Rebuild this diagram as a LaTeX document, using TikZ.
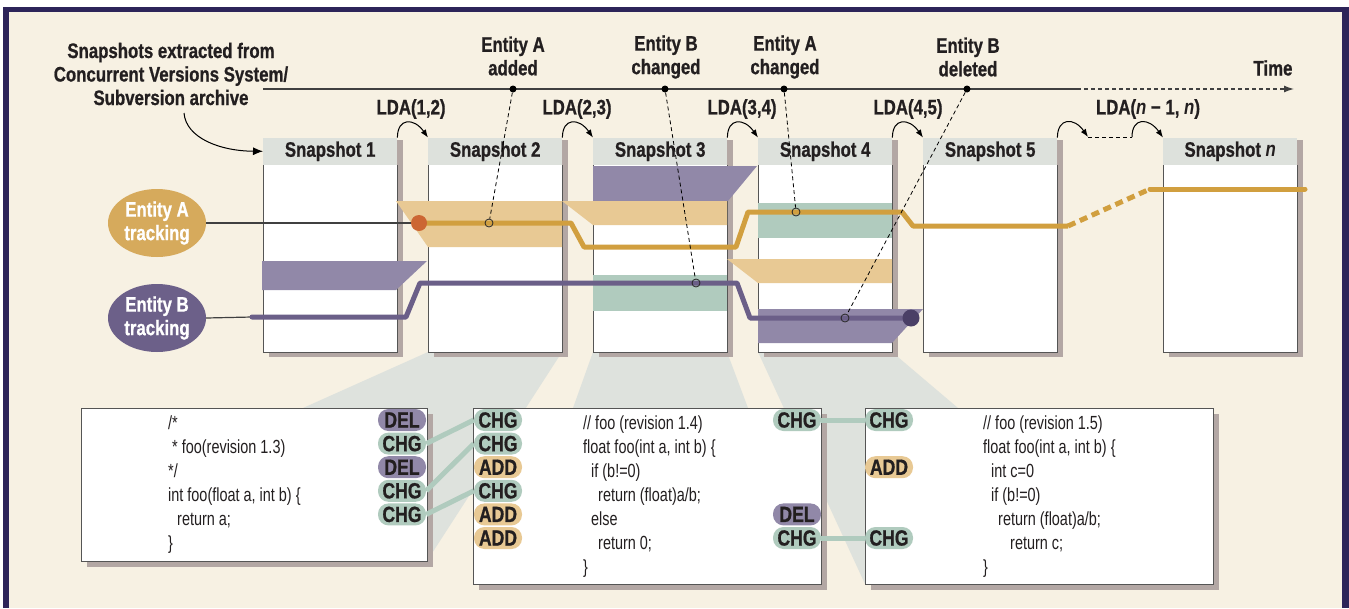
\documentclass[tikz,border=0pt]{standalone}
\usepackage{fontspec}
\setmainfont{Liberation Sans}
\newfontfamily\condf[FakeStretch=0.8, BoldFeatures={FakeBold=0.8}]{Liberation Sans}
\newfontfamily\codef[FakeStretch=0.76]{Liberation Sans}
\usetikzlibrary{arrows.meta,shapes.geometric}
\definecolor{cream}{HTML}{F7F1E3}
\definecolor{framec}{HTML}{2D2459}
\definecolor{headc}{HTML}{DDE1DC}
\definecolor{shadowc}{HTML}{B3A7A4}
\definecolor{goldl}{HTML}{D19F3F}
\definecolor{tanc}{HTML}{E8C994}
\definecolor{goldE}{HTML}{D6AA5C}
\definecolor{purpE}{HTML}{6C6089}
\definecolor{purpband}{HTML}{9188A8}
\definecolor{purpl}{HTML}{6B5F88}
\definecolor{darkdot}{HTML}{4A3F66}
\definecolor{greenc}{HTML}{B0CBBE}
\definecolor{orangec}{HTML}{CC6633}
\definecolor{projc}{HTML}{DEE2DD}
\definecolor{txtc}{HTML}{231F20}
\definecolor{outc}{HTML}{555555}
\newcommand\lblfont{\condf\bfseries\fontsize{21}{23.5}\selectfont}
\newcommand\tagfnt{\condf\bfseries\fontsize{22}{23}\selectfont}
\newcommand\codefnt{\codef\fontsize{19}{22}\selectfont}
\begin{document}
\begin{tikzpicture}[x=1pt,y=-1pt,
  lbl/.style={font=\lblfont, text=txtc, align=center, inner sep=0pt},
  snapbody/.style={fill=white, minimum width=134pt, minimum height=187pt, inner sep=0pt, anchor=north west},
  snaphead/.style={fill=headc, minimum width=134pt, minimum height=27pt, inner sep=0pt, anchor=south west, font=\lblfont, text=txtc},
  outl/.style={draw=outc, line width=1pt},
  thinl/.style={draw=black!75, line width=1.2pt},
  goldline/.style={draw=goldl, line width=5pt},
  purpline/.style={draw=purpl, line width=5pt},
  marker/.style={circle, draw=black!85, line width=0.8pt, minimum size=8pt, inner sep=0pt},
  evdot/.style={circle, fill=black, minimum size=7pt, inner sep=0pt},
  evline/.style={draw=black, line width=0.8pt, dash pattern=on 4pt off 3pt},
  tl/.style={draw=black!75, line width=1.3pt},
  lda/.style={draw=black, line width=1pt, -{Latex[length=8pt,width=6pt]}},
  panel/.style={draw=outc, fill=white, line width=1pt, inner sep=0pt, anchor=north west},
  tag/.style={rounded corners=10.5pt, minimum width=48pt, minimum height=22pt, inner sep=0pt, font=\tagfnt, text=txtc},
  chg/.style={tag, fill=greenc},
  del/.style={tag, fill=purpband},
  add/.style={tag, fill=tanc},
  conn/.style={draw=greenc, line width=5pt},
  code/.style={font=\codefnt, text=txtc, inner sep=0pt, anchor=base west}
]
\useasboundingbox (0,0) rectangle (1349,608);
\fill[white] (0,0) rectangle (1349,608);
\fill[framec] (3,7) rectangle (1349,608);
\fill[cream] (9,12) rectangle (1342,608);

% projections
\fill[projc] (428,352) -- (562,352) -- (427,561) -- (303,408) -- cycle;
\fill[projc] (593,352) -- (727,352) -- (748,408) -- (573,408) -- cycle;
\fill[projc] (758,352) -- (892,352) -- (958,408) -- (865,584) -- cycle;

% snapshots
\foreach \x/\t/\n in {263/1/1, 428/2/2, 593/3/3, 758/4/4, 923/5/5, 1163/{\textit{n}}/n}{
  \fill[shadowc] (\x+6,140) rectangle (\x+140,357);
  \node[snapbody] (s\n) at (\x,165) {};
  \draw[outl] (s\n.north west) -- (s\n.south west) -- (s\n.south east) -- (s\n.north east);
  \node[snaphead] (h\n) at (\x,165) {Snapshot \t};
}

% bands
\fill[purpband] (262,261) -- (427,261) -- (396,290) -- (262,290) -- cycle;
\fill[tanc] (396,201) -- (562,201) -- (562,247) -- (428,247) -- cycle;
\fill[purpband] (593,166) -- (757,166) -- (728,201) -- (593,201) -- cycle;
\fill[tanc] (562,201) -- (727,201) -- (727,225) -- (593,225) -- cycle;
\fill[greenc] (593,275) rectangle (727,311);
\fill[greenc] (758,203) rectangle (892,238);
\fill[tanc] (727,259) -- (892,259) -- (892,283) -- (758,283) -- cycle;
\fill[purpband] (758,309) -- (923,309) -- (892,343) -- (758,343) -- cycle;

% entity ellipses
\node[ellipse, fill=goldE, minimum width=98pt, minimum height=68pt, inner sep=0pt, font=\lblfont, text=white, align=center] (ea) at (157,223) {Entity A\\tracking};
\node[ellipse, fill=purpE, minimum width=98pt, minimum height=68pt, inner sep=0pt, font=\lblfont, text=white, align=center] (eb) at (157,318) {Entity B\\tracking};

% tracking lines
\coordinate (bstart) at (252,317);
\draw[thinl] (ea.east) -- (419,223);
\draw[thinl] (eb.east) -- (bstart);
\draw[goldline, line join=round] (419,223) -- (571,223) -- (584,247) -- (736,247) -- (748,212) -- (902,212) -- (913,226) -- (1068,226);
\draw[goldline, dash pattern=on 8pt off 5pt] (1068,226) -- (1150,189);
\draw[goldline, line cap=round] (1150,189) -- (1305,189);
\draw[purpline, line cap=round, line join=round] (bstart) -- (406,317) -- (420,283) -- (737,283) -- (750,318) -- (905,318);
\node[circle, fill=orangec, minimum size=16pt, inner sep=0pt] (adot) at (419,223) {};
\node[circle, fill=darkdot, minimum size=17pt, inner sep=0pt] (bdot) at (911,318) {};

% markers
\node[marker] (mA1) at (489,223) {};
\node[marker] (mB1) at (696,283) {};
\node[marker] (mA2) at (796,212) {};
\node[marker] (mB2) at (845,318) {};

% timeline
\coordinate (t0) at (263,89);
\coordinate (t1) at (1077,89);
\coordinate (t2) at (1294,89);
\draw[tl] (t0) -- (t1);
\draw[tl, dash pattern=on 4pt off 3pt, -{Latex[length=10pt,width=7pt]}] (t1) -- (t2);
\node[evdot] (e1) at (513,89) {};
\node[evdot] (e2) at (665,89) {};
\node[evdot] (e3) at (784,89) {};
\node[evdot] (e4) at (967,89) {};
\draw[evline] (e1) -- (mA1);
\draw[evline] (e2) -- (mB1);
\draw[evline] (e3) -- (mA2);
\draw[evline] (e4) -- (mB2);

% labels
\node[lbl] (src) at (171,74) {Snapshots extracted from\\Concurrent Versions System/\\Subversion archive};
\node[lbl] (l1) at (513,56) {Entity A\\added};
\node[lbl] (l2) at (666,57) {Entity B\\changed};
\node[lbl] (l3) at (785,57) {Entity A\\changed};
\node[lbl] (l4) at (968,57) {Entity B\\deleted};
\node[lbl] (time) at (1273,68) {Time};
\node[lbl] (d1) at (411,109) {LDA(1,2)};
\node[lbl] (d2) at (577,109) {LDA(2,3)};
\node[lbl] (d3) at (742,109) {LDA(3,4)};
\node[lbl] (d4) at (908,109) {LDA(4,5)};
\node[lbl] (d5) at (1148,109) {LDA(\textit{n} − 1, \textit{n})};

\draw[black, line width=1pt, -{Latex[length=10pt,width=8pt]}] (184,113) .. controls (186,138) and (220,151) .. (h1.west);

% LDA arrows
\draw[lda] (h1.north east) .. controls +(0,-20) and +(-14,-20) .. (h2.north west);
\draw[lda] (h2.north east) .. controls +(0,-20) and +(-14,-20) .. (h3.north west);
\draw[lda] (h3.north east) .. controls +(0,-20) and +(-14,-20) .. (h4.north west);
\draw[lda] (h4.north east) .. controls +(0,-20) and +(-14,-20) .. (h5.north west);
\coordinate (g1) at (1088,137);
\coordinate (g2) at (1132,137);
\draw[lda] (h5.north east) .. controls +(0,-20) and +(-14,-20) .. (g1);
\draw[black, line width=1pt, dash pattern=on 4pt off 3pt] (g1) -- (g2);
\draw[lda] (g2) .. controls +(0,-20) and +(-14,-20) .. (hn.north west);

% panels
\fill[shadowc] (87,414) rectangle (433,567);
\node[panel, minimum width=346pt, minimum height=153pt] (p1) at (81,408) {};
\fill[shadowc] (479,414) rectangle (827,590);
\node[panel, minimum width=348pt, minimum height=176pt] (p2) at (473,408) {};
\fill[shadowc] (871,414) rectangle (1219,590);
\node[panel, minimum width=348pt, minimum height=176pt] (p3) at (865,408) {};

% code
\node[code] (c11) at (168,429) {/*};
\node[code] (c12) at (172,453) {* foo(revision 1.3)};
\node[code] (c13) at (168,477) {*/};
\node[code] (c14) at (168,501) {int foo(float a, int b) \{};
\node[code] (c15) at (177,525) {return a;};
\node[code] (c16) at (168,549) {\}};

\node[code] (c21) at (583,429) {// foo (revision 1.4)};
\node[code] (c22) at (583,453) {float foo(int a, int b) \{};
\node[code] (c23) at (591,477) {if (b!=0)};
\node[code] (c24) at (598,501) {return (float)a/b;};
\node[code] (c25) at (591,525) {else};
\node[code] (c26) at (598,549) {return 0;};
\node[code] (c27) at (583,573) {\}};

\node[code] (c31) at (983,429) {// foo (revision 1.5)};
\node[code] (c32) at (983,453) {float foo(int a, int b) \{};
\node[code] (c33) at (991,477) {int c=0};
\node[code] (c34) at (991,501) {if (b!=0)};
\node[code] (c35) at (998,525) {return (float)a/b;};
\node[code] (c36) at (1010,549) {return c;};
\node[code] (c37) at (983,573) {\}};

% tags
\node[del] (ta1) at (402,420) {DEL};
\node[chg] (ta2) at (402,443.6) {CHG};
\node[del] (ta3) at (402,467.2) {DEL};
\node[chg] (ta4) at (402,490.8) {CHG};
\node[chg] (ta5) at (402,514.4) {CHG};

\node[chg] (tb1) at (498,420) {CHG};
\node[chg] (tb2) at (498,443.6) {CHG};
\node[add] (tb3) at (498,467.2) {ADD};
\node[chg] (tb4) at (498,490.8) {CHG};
\node[add] (tb5) at (498,514.4) {ADD};
\node[add] (tb6) at (498,538) {ADD};

\node[chg] (tc1) at (797,420) {CHG};
\node[del] (tc2) at (797,514.4) {DEL};
\node[chg] (tc3) at (797,538) {CHG};

\node[chg] (td1) at (889,420) {CHG};
\node[add] (td2) at (889,467.2) {ADD};
\node[chg] (td3) at (889,538) {CHG};

\draw[conn] (ta2.east) -- (tb1.west);
\draw[conn] (ta4.east) -- (tb2.west);
\draw[conn] (ta5.east) -- (tb4.west);
\draw[conn] (tc1.east) -- (td1.west);
\draw[conn] (tc3.east) -- (td3.west);
\end{tikzpicture}
\end{document}
